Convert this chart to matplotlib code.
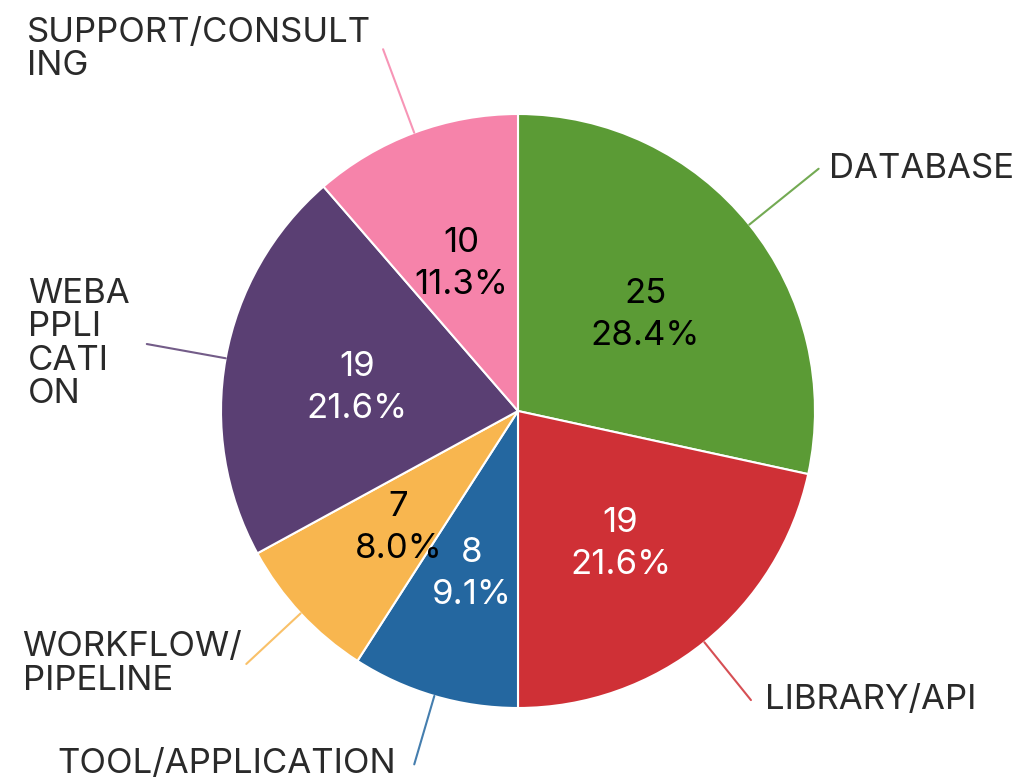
import numpy as np
import matplotlib
matplotlib.use("Agg")
import matplotlib.pyplot as plt

plt.rcParams['font.family'] = ['Inter', 'DejaVu Sans']

# data
categories = ["DATABASE", "LIBRARY/API", "TOOL/APPLICATION", "WORKFLOW/PIPELINE",
              "WEBAPPLICATION", "SUPPORT/CONSULTING"]
labels = ["DATABASE", "LIBRARY/API", "TOOL/APPLICATION", "WORKFLOW/\nPIPELINE",
          "WEBA\nPPLI\nCATI\nON", "SUPPORT/CONSULT\nING"]
counts = [25, 19, 8, 7, 19, 10]
percents = [28.4, 21.6, 9.1, 8.0, 21.6, 11.3]
colors = ["#5b9b35", "#cf3036", "#2467a0", "#f8b64f", "#5a3f73", "#f683aa"]
text_colors = ["black", "white", "white", "black", "white", "black"]

# leader line length (x radius) and gap to label, per wedge
leader_ext = [1.30, 1.25, 1.24, 1.25, 1.27, 1.30]
label_gap = [10, 14, 18, 4, 17, 12]

W, H = 1033, 782
fig = plt.figure(figsize=(W / 100, H / 100), dpi=100)
ax = fig.add_axes([0, 0, 1, 1])

cx, cy, R = 518, 371, 297

wedges, _ = ax.pie(counts, colors=colors, startangle=90, counterclock=False,
                   center=(cx, cy), radius=R, frame=True,
                   wedgeprops=dict(edgecolor="white", linewidth=1.5))
ax.set_xlim(0, W)
ax.set_ylim(0, H)
ax.set_aspect("equal")
ax.axis("off")

for i, w in enumerate(wedges):
    mid = np.deg2rad((w.theta1 + w.theta2) / 2)
    dx, dy = np.cos(mid), np.sin(mid)
    # inner value / percent
    ax.text(cx + 0.55 * R * dx, cy + 0.55 * R * dy - 6,
            f"{counts[i]}\n{percents[i]:.1f}%", ha="center", va="center",
            fontsize=25, color=text_colors[i], linespacing=1.4)
    # leader line
    x0, y0 = cx + R * dx, cy + R * dy
    x1, y1 = cx + leader_ext[i] * R * dx, cy + leader_ext[i] * R * dy
    ax.plot([x0, x1], [y0, y1], color=colors[i], lw=1.5, alpha=0.85,
            solid_capstyle="round")
    if dx >= 0:
        ax.text(x1 + label_gap[i], y1, labels[i], ha="left", va="center",
                fontsize=25, color="#2a2a2a", linespacing=1.05)
    else:
        ax.text(x1 - label_gap[i], y1, labels[i], ha="right", va="center",
                fontsize=25, color="#2a2a2a", linespacing=1.05,
                multialignment="left")

fig.savefig("out.png", dpi=100)
